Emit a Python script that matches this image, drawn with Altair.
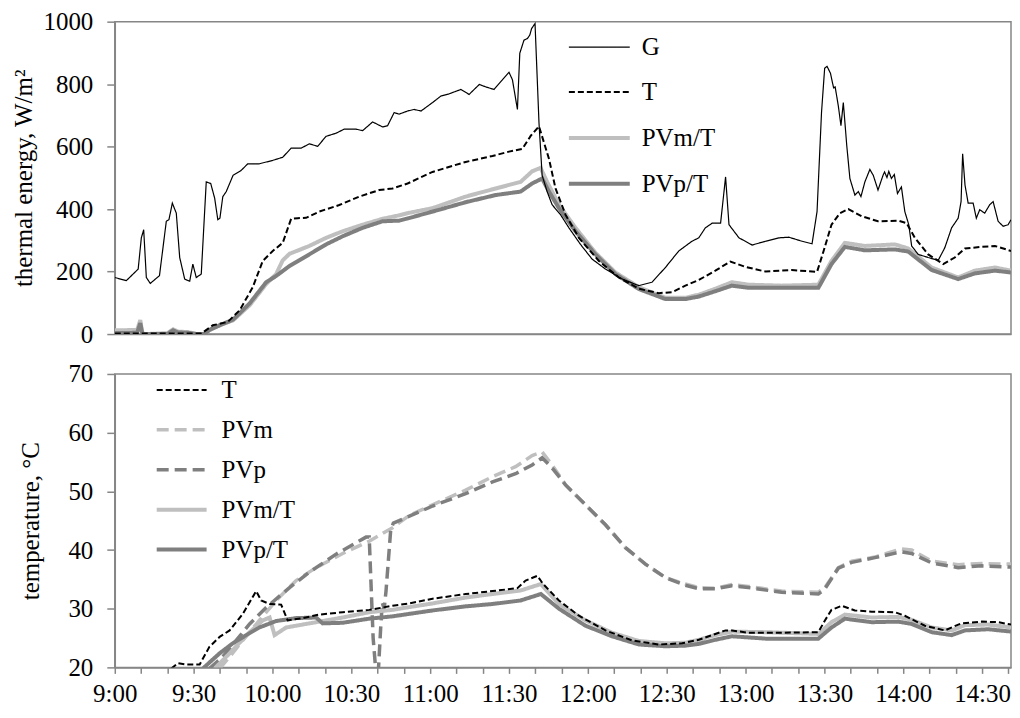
import altair as alt
import pandas as pd

# minutes after 9:00, value
G = [(0,181),(4.4,171),(8.9,208),(10.1,308),(11,334),(12,181),(13.5,162),(17,187),(19.6,361),(20.6,366),
     (21.9,419),(23.4,387),(24.7,245),(26.6,176),(28.5,169),(29.7,224),(31,181),(32.9,192),(34.8,487),(36.5,482),
     (38,435),(39.2,366),(40,371),(41.1,440),(42.4,456),(45,508),(48.1,524),(50.6,545),(55,545),(60.1,556),
     (63.9,566),(67.1,595),(70.9,595),(74,609),(77.2,601),(80.4,633),(84.2,643),(87.3,656),(91.8,656),(94.3,651),
     (98.1,679),(101.9,663),(103.8,667),(106.3,709),(108.2,704),(111.4,714),(113.9,719),(116.5,714),(120.9,741),
     (124.1,762),(127.2,769),(131.7,783),(134.8,767),(138.7,799),(141.2,791),(144.3,783),(147.5,814),(150,838),
     (151.3,814),(153.2,719),(154.1,899),(155.7,941),(157,946),(157.9,957),(158.6,978),(159.9,994),(161.4,677),
     (162.6,508),(164.5,456),(166.4,414),(169.6,382),(172.8,340),(177.2,287),(181.6,240),(186.7,208),(193.1,176),
     (199.4,155),(204.4,166),(209.5,213),(214.6,266),(219.6,297),(222.2,308),(224.7,340),(227.3,355),(230.5,355),
     (232.4,503),(233.7,350),(237.5,308),(242.5,285),(247.6,297),(252.7,308),(256.5,310),(261.5,297),(265.3,289),
     (267.2,392),(268.9,709),(270.1,851),(271,857),(272.3,835),(273.5,788),(274.1,791),(275.3,730),(276.3,667),
     (277.2,741),(278.5,604),(279.7,498),(281.6,445),(282.9,456),(283.9,440),(285.4,487),(287.3,527),(288.6,508),
     (290.4,461),(292.3,508),(292.9,519),(293.8,501),(294.5,521),(295.5,498),(296.6,511),(297.8,450),(299.3,471),
     (300.6,392),(302.1,350),(303.2,282),(305.7,255),(309.5,245),(313.3,236),(315.8,276),(318.4,340),(320.9,371),
     (322,424),(322.6,577),(323.5,477),(324.7,419),(326.6,419),(327.8,371),(329.1,398),(331,387),(332.9,414),
     (334.2,424),(336.1,361),(338,345),(339.9,350),(341,366)]

T_top = [(0,2),(33,2),(37.3,28),(43,39),(47.5,76),(52.5,150),(56.3,234),(60.1,266),(63.9,292),(67.1,369),
         (69.6,371),(72.8,372),(77.8,392),(85.4,413),(93,440),(100.6,461),(105.7,466),(111.4,482),(120.9,519),
         (133.5,551),(143.7,570),(150,584),(155.1,593),(158.3,635),(161.4,665),(165.2,561),(167.7,466),(171.5,382),
         (176.6,308),(184.2,234),(191.8,181),(199.4,145),(207,131),(212,134),(217.1,155),(222.2,173),(228.5,203),
         (234.2,232),(239.9,215),(247.6,200),(257.6,205),(267.2,199),(269.7,266),(272.7,350),(275.9,387),(279.1,400),
         (284.2,377),(290.4,361),(298.1,363),(301.3,355),(304.4,308),(309.5,255),(315.2,224),(319.6,245),(323.5,274),
         (329.8,279),(334.9,282),(341,266)]

PVmT_top = [(0,12),(8.5,13),(9.7,45),(10.5,2),(12,0),(20,3),(22.2,15),(24,8),(28,6),(31,0),(34,0),(36,13),
            (39.9,28),(45,44),(51.3,92),(57.6,160),(61.4,192),(63.9,236),(66.5,257),(74,282),(80.4,308),(86.7,329),
            (94.3,350),(101.9,369),(108.2,380),(111.4,387),(120.9,403),(133.5,440),(144.9,466),(154.4,487),
            (158.8,521),(162,532),(164.5,487),(169,414),(175.3,340),(182.9,260),(190.5,197),(199.4,150),(209.5,116),
            (217.1,116),(222.2,126),(228.5,145),(234.8,166),(241.1,158),(253.7,155),(267.7,158),(272.7,234),
            (277.8,292),(285.4,282),(296.8,287),(301.9,274),(310.8,213),(320.9,181),(327.2,203),(334.9,213),(341,203)]

PVpT_top = [(0,3),(8.5,4),(9.7,35),(10.5,0),(12,0),(20,0),(22.2,12),(24,5),(28,4),(31,0),(34,0),(36,13),
            (39.9,28),(45,46),(51.3,98),(57.6,166),(61.4,186),(66.5,218),(74,255),(80.4,287),(86.7,313),(94.3,340),
            (101.9,361),(108.2,363),(111.4,370),(120.9,392),(133.5,422),(144.9,445),(154.4,456),(158.8,482),
            (162.6,498),(165.2,456),(169,403),(175.3,329),(182.9,255),(190.5,192),(199.4,144),(209.5,112),(217.1,112),
            (222.2,120),(228.5,137),(234.8,155),(241.1,148),(253.7,148),(267.7,148),(272.7,224),(277.8,279),
            (285.4,268),(296.8,271),(301.9,264),(310.8,205),(320.9,176),(327.2,194),(334.9,203),(341,197)]

T_bot = [(21.5,19.8),(24,20.7),(26.9,20.5),(32.3,20.5),(36,23.5),(39.9,25.2),(43.7,26.3),(48.7,29.1),(53.8,33.0),
         (55.7,31.4),(58.9,30.8),(63.3,30.7),(65.8,28.0),(71.5,28.4),(77.8,29.0),(86.7,29.4),(96.8,29.8),
         (105.7,30.5),(112,30.9),(120.9,31.7),(133.5,32.5),(143.7,33.0),(153.2,33.5),(156.3,34.8),(160.8,35.6),
         (163,34.2),(169,31.4),(176.6,28.8),(186.7,26.3),(196.8,24.6),(207,23.9),(215.8,24.1),(222.2,24.7),
         (228.5,25.7),(232.4,26.3),(234.8,26.3),(241.1,25.9),(253.7,25.9),(267.7,26.0),(270.2,28.0),(272.7,29.8),
         (276.6,30.5),(281.6,29.7),(288,29.5),(296.8,29.4),(300.6,28.8),(308.2,27.1),(315.8,26.3),(322.1,27.5),
         (329.8,27.8),(336.1,27.7),(341,27.3)]

PVm_bot = [(39.9,19.8),(43.7,21.8),(48.7,24.6),(55,28.0),(61.4,31.4),(69,34.8),(76.6,37.0),(86.7,39.4),(96.8,41.5),
           (105.7,43.8),(112,45.9),(120.9,47.7),(133.5,50.2),(143.7,52.5),(152.5,54.2),(158.8,56.1),(162.6,56.7),
           (166.4,54.5),(171.5,51.1),(179.1,47.7),(186.7,44.3),(194.3,40.4),(201.9,37.6),(209.5,35.3),(217.1,34.2),
           (222.2,33.6),(228.5,33.5),(234.8,34.1),(241.1,33.8),(253.7,33.0),(267.7,32.8),(270.2,33.6),(275.3,37.0),
           (280.4,38.1),(289.2,38.8),(299.3,40.2),(303.2,40.0),(310.8,38.1),(320.9,37.5),(329.8,37.7),(341,37.6)]

PVp_bot = [(36,19.8),(41.1,21.8),(46.2,24.6),(51.3,27.4),(57.6,30.2),(66.5,33.6),(74,36.2),(84.2,39.3),(95.6,42.2),
           (96.8,42.2),(98.3,25),(99.3,19.5),(100.3,19.5),(101.2,27),(101.8,31),(102.5,30),(103.2,33),(105,43.5),
           (106,44.6),(108.2,45.0),(120.9,47.5),(133.5,49.6),(143.7,51.6),(152.5,53.0),(158.8,54.5),(162.6,55.7),
           (166.4,54.0),(171.5,51.1),(179.1,47.7),(186.7,44.3),(194.3,40.4),(201.9,37.6),(209.5,35.3),(217.1,34.0),
           (222.2,33.4),(228.5,33.4),(234.8,33.9),(241.1,33.6),(253.7,32.8),(267.7,32.5),(270.2,33.4),(275.3,36.9),
           (280.4,37.9),(289.2,38.7),(299.3,39.7),(303.2,39.4),(310.8,37.8),(320.9,37.0),(329.8,37.3),(341,37.1)]

PVmT_bot = [(38,19.8),(43.7,22.4),(51.3,26.0),(56.3,28.0),(58.9,28.5),(60.8,25.5),(65.2,26.8),(71.5,27.3),
            (79.1,27.9),(86.7,28.5),(96.8,29.4),(105.7,29.8),(108.2,30.0),(120.9,30.9),(133.5,31.9),(143.7,32.5),
            (154.4,33.1),(162.1,34.2),(169,30.8),(179.1,28.0),(189.2,25.9),(199.4,24.5),(209.5,24.1),(217.1,24.2),
            (222.2,24.7),(228.5,25.5),(234.8,26.1),(247.6,26.0),(267.7,25.7),(272.7,27.7),(277.8,29.0),(288,28.5),
            (298.1,28.6),(303.2,28.1),(310.8,26.8),(318.4,26.3),(323.5,27.2),(332.3,27.3),(341,26.8)]

PVpT_bot = [(33.5,19.8),(39.9,22.4),(44.9,24.1),(50,25.5),(55,26.8),(61.4,27.9),(69,28.4),(76.6,28.5),(79.1,27.5),
            (86.7,27.6),(96.8,28.3),(105.7,28.7),(120.9,29.7),(133.5,30.4),(143.7,30.8),(154.4,31.4),(162.1,32.5),
            (169,30.0),(179.1,27.1),(189.2,25.3),(199.4,23.9),(209.5,23.6),(217.1,23.7),(222.2,24.0),(228.5,24.7),
            (234.8,25.3),(247.6,24.9),(267.7,24.9),(272.7,26.8),(277.8,28.3),(288,27.7),(298.1,27.8),(303.2,27.4),
            (310.8,26.0),(318.4,25.5),(323.5,26.3),(332.3,26.5),(341,26.1)]

top_series = ["G", "T", "PVm/T", "PVp/T"]
bot_series = ["T", "PVm", "PVp", "PVm/T", "PVp/T"]
x_ticks = list(range(0, 341, 10))
y_top_ticks = [0, 200, 400, 600, 800, 1000]
y_bot_ticks = [20, 30, 40, 50, 60, 70]


def frame(pairs):
    rows = []
    for name, pts in pairs:
        for i, (t, v) in enumerate(pts):
            rows.append({"s": name, "t": t, "v": v, "i": i})
    return pd.DataFrame(rows)


top_df = frame([("PVm/T", PVmT_top), ("PVp/T", PVpT_top), ("T", T_top), ("G", G)])
bot_df = frame([("PVm", PVm_bot), ("PVp", PVp_bot), ("PVm/T", PVmT_bot), ("PVp/T", PVpT_bot), ("T", T_bot)])

FONT = "Liberation Serif"
LIGHT = "#bfbfbf"
DARK = "#7f7f7f"
FS = 25

label_expr = ("datum.value % 30 == 0 ? (floor(datum.value / 60) + 9) + ':' + "
              "(datum.value % 60 == 0 ? '00' : '30') : ''")

x_scale = alt.Scale(domain=[0, 341], nice=False, zero=False)


def legend(x, y, size, offset):
    return alt.Legend(orient="none", legendX=x, legendY=y, title=None, symbolType="stroke",
                      symbolSize=size, labelFont=FONT, labelFontSize=FS, labelColor="black",
                      rowPadding=0, labelOffset=offset, labelLimit=0, padding=0)


top_leg = legend(453, -6, 3721, 10)
top = alt.Chart(top_df).mark_line(clip=True).encode(
    x=alt.X("t:Q", scale=x_scale,
            axis=alt.Axis(labels=False, ticks=False, title=None, values=x_ticks)),
    y=alt.Y("v:Q", scale=alt.Scale(domain=[0, 1000], nice=False),
            axis=alt.Axis(values=y_top_ticks, format="d", title="thermal energy, W/m²", tickSize=8,
                          labelPadding=14, titlePadding=6)),
    color=alt.Color("s:N", scale=alt.Scale(domain=top_series,
                                          range=["black", "black", LIGHT, DARK]), legend=top_leg),
    strokeDash=alt.StrokeDash("s:N", scale=alt.Scale(domain=top_series,
                                                    range=[[1, 0], [6, 3], [1, 0], [1, 0]]), legend=top_leg),
    strokeWidth=alt.StrokeWidth("s:N", scale=alt.Scale(type="ordinal", domain=top_series,
                                                      range=[1.2, 2, 4, 4]), legend=top_leg),
    detail="s:N",
    order="i:Q",
).properties(width=898, height=313)

bot_leg = legend(40, -10, 2500, 13)
bot = alt.Chart(bot_df).mark_line(clip=True).encode(
    x=alt.X("t:Q", scale=x_scale,
            axis=alt.Axis(values=x_ticks, labelExpr=label_expr, title=None, tickSize=6,
                          labelFlush=False, labelOverlap=False, labelPadding=8)),
    y=alt.Y("v:Q", scale=alt.Scale(domain=[20, 70], nice=False, zero=False),
            axis=alt.Axis(values=y_bot_ticks, title="temperature, °C", tickSize=8,
                          labelPadding=14, titlePadding=24)),
    color=alt.Color("s:N", scale=alt.Scale(domain=bot_series,
                                          range=["black", LIGHT, DARK, LIGHT, DARK]), legend=bot_leg),
    strokeDash=alt.StrokeDash("s:N", scale=alt.Scale(domain=bot_series,
                                                    range=[[6, 3], [12, 6], [12, 6], [1, 0], [1, 0]]),
                              legend=bot_leg),
    strokeWidth=alt.StrokeWidth("s:N", scale=alt.Scale(type="ordinal", domain=bot_series,
                                                      range=[2, 3.5, 3.5, 4, 4]), legend=bot_leg),
    detail="s:N",
    order="i:Q",
).properties(width=898, height=294)

chart = alt.vconcat(top, bot, spacing=13).resolve_scale(
    color="independent", strokeDash="independent", strokeWidth="independent", y="independent"
).resolve_legend(
    color="independent", strokeDash="independent", strokeWidth="independent"
).properties(
    padding={"left": 3, "top": 0, "right": 0, "bottom": 0}
).configure_axis(
    labelFont=FONT, labelFontSize=FS, labelColor="black", titleFont=FONT, titleFontSize=FS,
    titleFontWeight="normal", titleColor="black", domainColor="#868686", tickColor="#868686",
    domainWidth=1.5, tickWidth=1.5, grid=False
).configure_view(stroke="#868686", strokeWidth=1.5)

chart.save("out.html", embed_options={"renderer": "svg", "actions": False})
